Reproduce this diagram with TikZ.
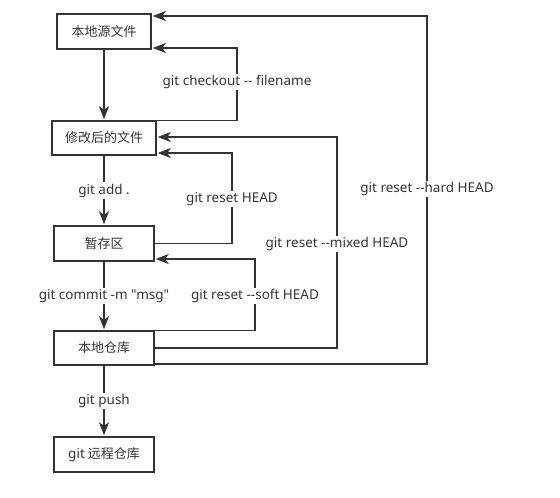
\documentclass[tikz,border=0pt]{standalone}
\usepackage{fontspec}
\setmainfont{Noto Sans}[Ligatures=TeXOff]
\newfontfamily\latinfont{Noto Sans}[Ligatures=TeXOff]
\newfontfamily\cjk{Noto Sans CJK SC}[Ligatures=TeXOff]
\usetikzlibrary{arrows.meta}
\definecolor{ink}{HTML}{333333}
\begin{document}
\begin{tikzpicture}[x=1pt,y=-1pt,
  box/.style={draw=ink,line width=1.5pt,fill=white,minimum height=35pt,inner sep=0pt,
    font=\cjk\fontsize{13}{15}\selectfont,text=ink},
  lbl/.style={fill=white,inner sep=1.5pt,font=\fontsize{13.5}{15}\selectfont,text=ink},
  arr/.style={draw=ink,line width=1.5pt,-{Stealth[length=13pt,width=10pt,inset=3.5pt]},shorten >=1pt}]
\useasboundingbox[fill=white] (0,0) rectangle (560,498);

% boxes
\node[box,minimum width=94pt] (n1) at (104,31.5) {本地源文件};
\node[box,minimum width=104pt,minimum height=34pt] (n2) at (104,138) {修改后的文件};
\node[box,minimum width=100pt] (n3) at (104,243.5) {暂存区};
\node[box,minimum width=100pt,minimum height=34pt] (n4) at (104,348) {本地仓库};
\node[box,minimum width=100pt] (n5) at (104,454.5) {{\latinfont\fontsize{13.5}{15}\selectfont git} 远程仓库};

% forward arrows
\draw[arr] (n1) -- (n2);
\draw[arr] (n2) -- node[lbl]{git add .} (n3);
\draw[arr] (n3) -- node[lbl]{git commit -m "msg"} (n4);
\draw[arr] (n4) -- node[lbl]{git push} (n5);

% return connectors
\coordinate (ck) at (237,82);
\coordinate (rh) at (232,199);
\coordinate (mx) at (337,244);
\coordinate (hd) at (427,189);
\coordinate (sf) at (255,296);

\draw[arr] (n2.north east) -| (ck) |- ([yshift=-16.5pt]n1.east);
\draw[arr] ([yshift=-16pt]n4.east) -| (hd) |- ([yshift=15.5pt]n1.east);
\draw[arr] (n4.east) -| (mx) |- ([yshift=1pt]n2.east);
\draw[arr] (n3.east) -| (rh) |- ([yshift=-15pt]n2.east);
\draw[arr] (n4.north east) -| (sf) |- ([yshift=-15.5pt]n3.east);

% labels
\node[lbl] (lck) at (ck) {git checkout -- filename};
\node[lbl] (lrh) at (rh) {git reset HEAD};
\node[lbl] (lmx) at (mx) {git reset --mixed HEAD};
\node[lbl] (lhd) at (hd) {git reset --hard HEAD};
\node[lbl] (lsf) at (sf) {git reset --soft HEAD};
\end{tikzpicture}
\end{document}
